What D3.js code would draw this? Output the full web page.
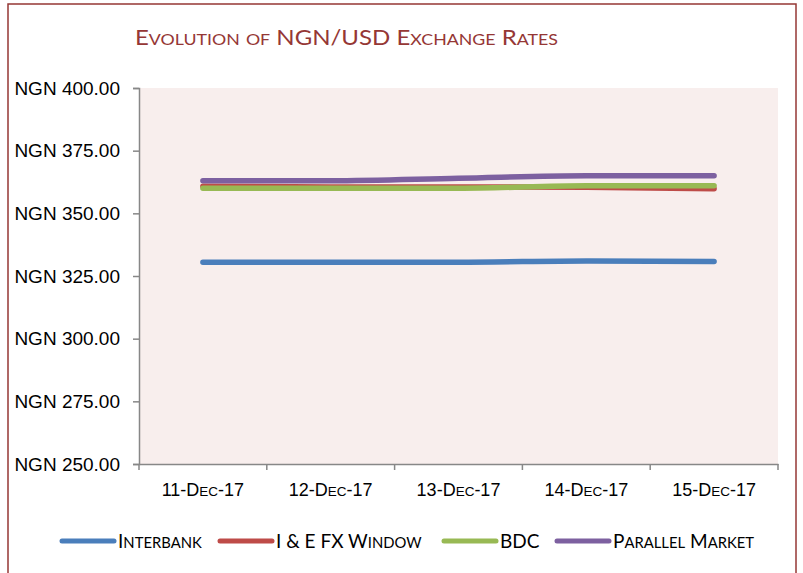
<!DOCTYPE html>
<html>
<head>
<meta charset="utf-8">
<script src="https://cdn.jsdelivr.net/npm/d3@7"></script>
<style>
  body { margin: 0; background: #fff; }
  svg { font-family: "Lato", "Open Sans", sans-serif; font-variant-numeric: oldstyle-nums; }
</style>
</head>
<body>
<svg width="803" height="573"></svg>
<script>
var svg = d3.select("svg");
var width = +svg.attr("width");
var height = +svg.attr("height");

var dates = ["11-Dec-17", "12-Dec-17", "13-Dec-17", "14-Dec-17", "15-Dec-17"];
var seriesNames = ["Interbank", "I & E FX Window", "BDC", "Parallel Market"];
var colors = ["#4a7ebb", "#be4b48", "#98b954", "#7d60a0"];
var interbank = [330.5, 330.5, 330.5, 331.0, 330.8];
var ieWindow = [360.8, 360.5, 360.5, 360.4, 359.8];
var bdc = [360.0, 360.0, 360.0, 361.0, 361.0];
var parallel = [363.0, 363.0, 364.0, 365.0, 365.0];
var yTicks = [250, 275, 300, 325, 350, 375, 400];

var series = [interbank, ieWindow, bdc, parallel];

// fake small caps: lower case letters become smaller capitals
function smallCaps(sel, size, ratio) {
  sel.each(function() {
    var t = d3.select(this);
    var s = t.text();
    t.text(null);
    var parts = s.match(/([a-z]+|[^a-z]+)/g) || [];
    parts.forEach(function(p) {
      var lower = /[a-z]/.test(p[0]);
      t.append("tspan")
        .attr("font-size", lower ? size * ratio : size)
        .text(p.toUpperCase());
    });
  });
}

var frameColor = "#953735";
svg.append("rect")
  .attr("x", 8).attr("y", 4)
  .attr("width", 788).attr("height", 600)
  .attr("fill", "none")
  .attr("stroke", frameColor)
  .attr("stroke-width", 1.5);

svg.append("text")
  .attr("x", 135).attr("y", 45)
  .attr("fill", frameColor)
  .attr("textLength", 423)
  .attr("lengthAdjust", "spacingAndGlyphs")
  .text("Evolution of NGN/USD Exchange Rates")
  .call(smallCaps, 21, 0.74);

var mLeft = 139, mRight = 778, mTop = 88, mBottom = 464;

var x = d3.scaleBand().domain(dates).range([mLeft, mRight]);
var y = d3.scaleLinear().domain([250, 400]).range([mBottom, mTop]);

svg.append("rect")
  .attr("x", mLeft).attr("y", mTop)
  .attr("width", mRight - mLeft).attr("height", mBottom - mTop)
  .attr("fill", "#f8eeed");

// y axis
var yAxis = svg.append("g")
  .attr("transform", "translate(" + mLeft + ",0)")
  .call(d3.axisLeft(y).tickValues(yTicks).tickSize(6).tickPadding(13)
    .tickFormat(function(d) { return "NGN " + d3.format(".2f")(d); }));
yAxis.selectAll("text").attr("font-size", 19).attr("fill", "#000").attr("font-family", null);
yAxis.selectAll("line, path").attr("stroke", "#878787").attr("stroke-width", 1.5);

// x axis
var xAxis = svg.append("g")
  .attr("transform", "translate(0," + mBottom + ")")
  .call(d3.axisBottom(x).tickSize(0).tickPadding(25));
xAxis.selectAll("text")
  .attr("fill", "#000").attr("font-family", null)
  .call(smallCaps, 18, 0.75);
xAxis.selectAll("path").attr("stroke", "#878787").attr("stroke-width", 1.5);
xAxis.selectAll(".tick line").remove();
var bounds = dates.map(function(d) { return x(d); }).concat([mRight]);
xAxis.selectAll(".sep")
  .data(bounds)
  .enter().append("line")
    .attr("x1", function(d) { return d; }).attr("x2", function(d) { return d; })
    .attr("y1", 0).attr("y2", 6)
    .attr("stroke", "#878787").attr("stroke-width", 1.5);

var line = d3.line()
  .x(function(d, i) { return x(dates[i]) + x.bandwidth() / 2; })
  .y(function(d) { return y(d); })
  .curve(d3.curveMonotoneX);

svg.selectAll(".series")
  .data(series)
  .enter().append("path")
    .attr("d", line)
    .attr("fill", "none")
    .attr("stroke", function(d, i) { return colors[i]; })
    .attr("stroke-width", 5.5)
    .attr("stroke-linecap", "round");

// legend
var legendX = [62, 220, 444, 557];
var lg = svg.selectAll(".legend")
  .data(seriesNames)
  .enter().append("g")
    .attr("transform", function(d, i) { return "translate(" + legendX[i] + ",541)"; });
lg.append("line")
  .attr("x1", 0).attr("x2", 52)
  .attr("stroke", function(d, i) { return colors[i]; })
  .attr("stroke-width", 5)
  .attr("stroke-linecap", "round");
lg.append("text")
  .attr("x", 56).attr("y", 7)
  .text(function(d) { return d; })
  .call(smallCaps, 19, 0.78);
</script>
</body>
</html>
